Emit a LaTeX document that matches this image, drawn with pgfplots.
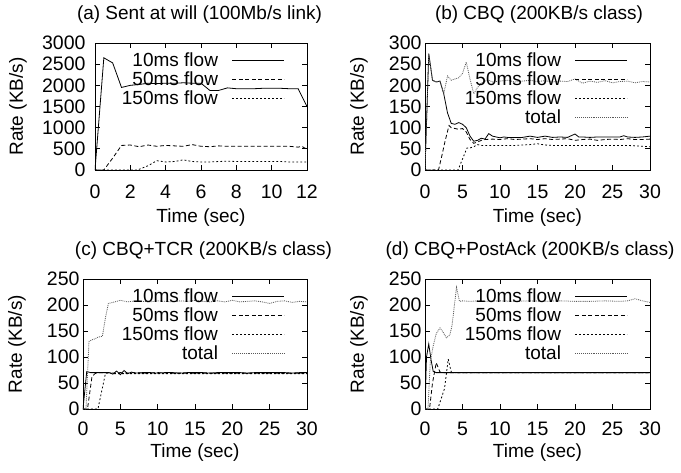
\documentclass[border=0pt]{standalone}
\usepackage{fontspec}
\setmainfont{Liberation Sans}
\usepackage{pgfplots}
\pgfplotsset{compat=1.18}
\pgfplotsset{
  myax/.style={
    scale only axis,
    font=\fontsize{19}{22}\selectfont,
    tick label style={font=\fontsize{19.5}{22}\selectfont},
    tick align=inside,
    major tick length=5pt,
    /pgf/number format/assume math mode=true,
    /pgf/number format/1000 sep={},
    axis line style={line width=0.8pt},
    every tick/.style={line width=0.8pt, black},
    xlabel={Time (sec)},
    ylabel={Rate (KB/s)},
    yticklabel style={anchor=east},
    title style={at={(axis description cs:0.5,1)}, anchor=center, yshift=22pt},
    legend plot pos=right,
    legend cell align=right,
    legend style={draw=none, fill=none, at={(1,1)}, anchor=north east,
      xshift=-22pt, yshift=-9pt, inner sep=0pt, row sep=1.6pt, column sep=13pt,
      nodes={inner sep=1pt}},
    legend image code/.code={\draw[##1] (0pt,0pt) -- (52pt,0pt);},
  },
  s10/.style={black, line width=0.8pt, solid},
  s50/.style={black, line width=0.8pt, dash pattern=on 4pt off 2.5pt},
  s150/.style={black, line width=0.8pt, dash pattern=on 1.8pt off 2.2pt},
  stot/.style={black!65, line width=0.8pt, dash pattern=on 0.9pt off 1pt},
}
\begin{document}
\begin{tikzpicture}[x=1pt,y=1pt]
\path[use as bounding box] (0,0) rectangle (681,472);

% (a)
\begin{axis}[myax, at={(95pt,302pt)}, anchor=south west, width=212pt, height=127pt,
  xmin=0, xmax=12, ymin=0, ymax=3000,
  xtick={0,2,...,12}, ytick={0,500,...,3000},
  title={(a) Sent at will (100Mb/s link)},
  title style={xshift=-1.5pt},
  xticklabel style={anchor=center, yshift=-22pt},
  yticklabel style={xshift=-6pt},
  xlabel style={at={(axis description cs:0.5,0)}, anchor=center, yshift=-48pt},
  ylabel style={at={(axis description cs:-0.363,0.5)}, anchor=center},
]
\addplot[s10] coordinates {(0,0)(0.5,2650)(1,2530)(1.5,1950)(2,2000)(2.5,2020)(3,2050)(3.5,2040)(4,2050)(4.5,2050)(5,2060)(5.5,2050)(6,2050)(6.5,1880)(7,1880)(7.5,1940)(8,1920)(8.5,1920)(9,1920)(9.5,1930)(10,1930)(10.5,1930)(11,1920)(11.5,1920)(12,1500)};
\addlegendentry{10ms flow}
\addplot[s50] coordinates {(0,0)(0.5,0)(1,280)(1.5,580)(2,590)(2.5,550)(3,590)(3.5,560)(4,580)(4.5,570)(5,560)(5.5,600)(6,560)(6.5,550)(7,570)(7.5,560)(8,560)(8.5,560)(9,560)(9.5,560)(10,560)(10.5,560)(11,560)(11.5,540)(11.7,560)(12,490)};
\addlegendentry{50ms flow}
\addplot[s150] coordinates {(0,0)(2.4,0)(3,100)(3.5,220)(4,190)(4.5,200)(5,240)(5.5,200)(6,190)(6.5,190)(7,200)(7.5,210)(8,200)(8.5,200)(9,200)(9.5,200)(10,200)(10.5,200)(11,190)(11.5,190)(12,190)};
\addlegendentry{150ms flow}
\end{axis}

% (b)
\begin{axis}[myax, at={(425pt,302pt)}, anchor=south west, width=225pt, height=127pt,
  xmin=0, xmax=30, ymin=0, ymax=300,
  xtick={0,5,...,30}, ytick={0,50,...,300},
  title={(b) CBQ (200KB/s class)},
  title style={xshift=1.5pt},
  xticklabel style={anchor=center, yshift=-22pt},
  xlabel style={at={(axis description cs:0.5,0)}, anchor=center, yshift=-48pt},
  ylabel style={at={(axis description cs:-0.293,0.5)}, anchor=center},
]
\addplot[s10] coordinates {(0,0)(0.5,275)(1,212)(1.5,208)(2,210)(2.5,180)(3,135)(3.5,110)(4,108)(4.5,112)(5,108)(5.5,100)(6,80)(6.5,68)(7,70)(7.5,75)(8,73)(8.5,86)(9,80)(9.5,78)(10,76)(10.5,78)(11,77)(12,77)(13,77)(14,80)(15,77)(16,80)(17,77)(18,78)(19,77)(20,85)(20.5,78)(21,78)(22,77)(23,78)(24,78)(25,78)(26,78)(26.5,81)(27,78)(28,77)(29,78)(30,80)};
\addlegendentry{10ms flow}
\addplot[s50] coordinates {(0,0)(1.8,0)(2.2,30)(2.7,70)(3.2,105)(3.5,100)(4,98)(4.5,96)(5,98)(5.5,90)(6,72)(6.5,63)(7,66)(7.5,70)(8,72)(9,73)(10,72)(11,74)(12,72)(13,73)(14,74)(15,72)(16,74)(17,72)(18,73)(19,74)(20,70)(21,72)(22,73)(23,70)(24,72)(25,73)(26,72)(27,74)(28,72)(29,72)(30,73)};
\addlegendentry{50ms flow}
\addplot[s150] coordinates {(0,0)(4.4,0)(5.6,52)(6,52)(6.5,55)(7,60)(7.5,58)(8,58)(9,58)(10,58)(11,58)(12,58)(13,59)(14,60)(15,62)(16,59)(17,58)(18,58)(19,58)(20,58)(21,58)(22,58)(23,58)(24,58)(25,58)(26,58)(27,58)(28,57)(29,56)(30,55)};
\addlegendentry{150ms flow}
\addplot[stot] coordinates {(0,0)(0.5,275)(1,212)(1.5,208)(2,210)(2.5,180)(3,222)(3.5,212)(4,215)(4.5,218)(5,228)(5.5,255)(6,215)(6.5,180)(7,195)(7.5,205)(8,210)(8.5,212)(9,208)(10,210)(11,212)(12,208)(13,210)(14,212)(15,209)(16,211)(17,208)(18,210)(19,209)(20,215)(21,205)(22,210)(23,207)(24,211)(25,206)(26,209)(27,210)(28,206)(29,209)(30,208)};
\addlegendentry{total}
\end{axis}

% (c)
\begin{axis}[myax, at={(83pt,63pt)}, anchor=south west, width=224pt, height=130pt,
  xmin=0, xmax=30, ymin=0, ymax=250,
  xtick={0,5,...,30}, ytick={0,50,...,250},
  title={(c) CBQ+TCR (200KB/s class)},
  title style={xshift=8.5pt},
  xticklabel style={anchor=center, yshift=-20pt},
  xlabel style={at={(axis description cs:0.5,0)}, anchor=center, yshift=-44pt},
  ylabel style={at={(axis description cs:-0.295,0.5)}, anchor=center},
]
\addplot[s10] coordinates {(0,0)(0.5,72)(1,70)(1.5,70)(2,70)(2.5,70)(3,70)(3.5,70)(4,67)(4.5,73)(5,66)(5.5,74)(6,68)(6.5,71)(7,69)(8,70)(9,70)(10,69)(11,70)(12,70)(13,69)(14,70)(15,70)(16,70)(17,69)(18,70)(19,70)(20,70)(21,70)(22,69)(23,70)(24,70)(25,70)(26,70)(27,70)(28,69)(29,70)(30,70)};
\addlegendentry{10ms flow}
\addplot[s50] coordinates {(0,0)(0.6,0)(1.2,62)(1.6,68)(2,70)(3,70)(4,69)(5,70)(6,69)(7,70)(8,69)(9,69)(10,70)(12,69)(14,69)(16,69)(18,69)(20,69)(22,69)(24,69)(26,69)(28,69)(30,69)};
\addlegendentry{50ms flow}
\addplot[s150] coordinates {(0,0)(2,0)(3,68)(3.5,70)(4,68)(5,68)(6,68)(8,68)(10,68)(12,68)(14,68)(16,68)(18,68)(20,68)(22,68)(24,68)(26,68)(28,68)(30,68)};
\addlegendentry{150ms flow}
\addplot[stot] coordinates {(0,0)(0.4,0)(0.8,130)(1.2,133)(1.6,135)(2,138)(2.6,140)(3,175)(3.4,203)(4,205)(5,209)(6,206)(7,208)(8,207)(9,206)(10,208)(11,207)(12,206)(13,208)(14,207)(15,209)(16,207)(17,206)(18,208)(19,206)(20,209)(21,206)(22,207)(23,208)(24,206)(25,203)(26,207)(27,208)(28,205)(29,207)(30,206)};
\addlegendentry{total}
\end{axis}

% (d)
\begin{axis}[myax, at={(425pt,63pt)}, anchor=south west, width=225pt, height=130pt,
  xmin=0, xmax=30, ymin=0, ymax=250,
  xtick={0,5,...,30}, ytick={0,50,...,250},
  title={(d) CBQ+PostAck (200KB/s class)},
  title style={xshift=-7.5pt},
  xticklabel style={anchor=center, yshift=-20pt},
  xlabel style={at={(axis description cs:0.5,0)}, anchor=center, yshift=-44pt},
  ylabel style={at={(axis description cs:-0.293,0.5)}, anchor=center},
]
\addplot[s10] coordinates {(0,0)(0.2,100)(0.5,125)(0.8,95)(1.1,72)(1.5,70)(2,70)(3,70)(4,70)(5,70)(6,70)(8,70)(10,70)(12,70)(14,70)(16,70)(18,70)(20,70)(22,70)(24,70)(26,70)(28,70)(30,70)};
\addlegendentry{10ms flow}
\addplot[s50] coordinates {(0,0)(0.6,0)(1,50)(1.5,89)(2,71)(2.5,70)(3,70)(4,70)(6,70)(8,70)(10,70)(12,70)(14,70)(16,70)(18,70)(20,70)(22,70)(24,70)(26,70)(28,70)(30,70)};
\addlegendentry{50ms flow}
\addplot[s150] coordinates {(0,0)(1.7,0)(2.6,39)(3.1,96)(3.5,71)(4,70)(5,70)(6,70)(8,70)(10,70)(12,70)(14,70)(16,70)(18,70)(20,70)(22,70)(24,70)(26,70)(28,70)(30,70)};
\addlegendentry{150ms flow}
\addplot[stot] coordinates {(0,0)(0.4,0)(0.7,90)(1.07,120)(1.5,145)(2,156)(2.4,148)(2.85,137)(3.3,142)(3.6,160)(4.2,234)(4.6,207)(5,208)(6,207)(7,208)(8,207)(10,208)(12,207)(14,208)(16,207)(18,208)(20,207)(22,207)(24,208)(26,207)(27,208)(28,212)(29,208)(30,205)};
\addlegendentry{total}
\end{axis}
\end{tikzpicture}
\end{document}
